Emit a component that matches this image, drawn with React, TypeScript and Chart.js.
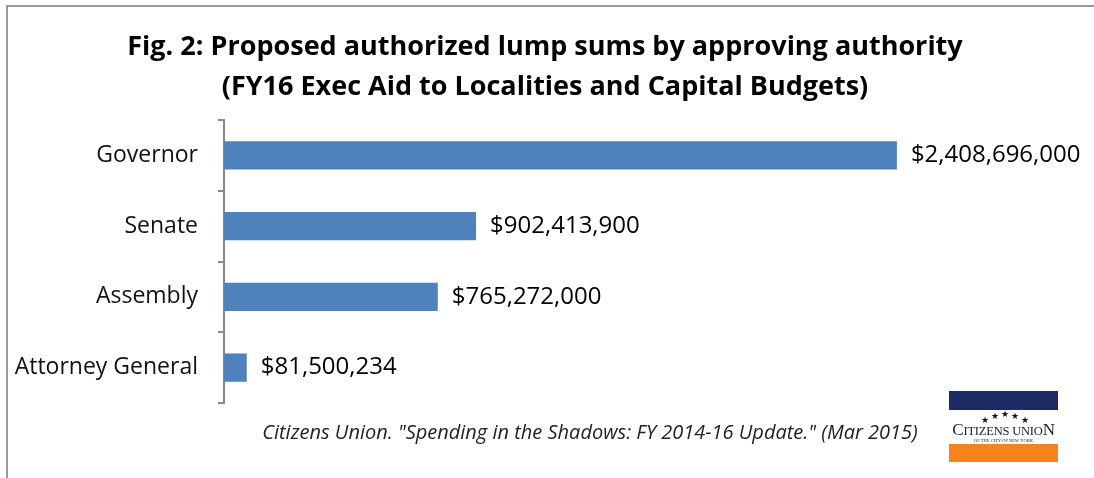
import React, { useEffect, useRef } from "react";
import { Chart, registerables } from "chart.js";

Chart.register(...registerables);

const categories = ["Governor", "Senate", "Assembly", "Attorney General"];
const amounts = [2408696000, 902413900, 765272000, 81500234];
const titleLines = [
  "Fig. 2: Proposed authorized lump sums by approving authority",
  "(FY16 Exec Aid to Localities and Capital Budgets)",
];
const sourceNote = 'Citizens Union. "Spending in the Shadows: FY 2014-16 Update." (Mar 2015)';

const FONT = "'Open Sans', Lato, sans-serif";

const fmt = (v: number) => "$" + v.toLocaleString("en-US");

const valueLabels = {
  id: "valueLabels",
  afterDatasetsDraw(chart: any) {
    const ctx = chart.ctx;
    const meta = chart.getDatasetMeta(0);
    ctx.save();
    ctx.font = `24px ${FONT}`;
    ctx.fillStyle = "#000";
    ctx.textAlign = "left";
    ctx.textBaseline = "middle";
    meta.data.forEach((el: any, i: number) => {
      ctx.fillText(fmt(amounts[i]), el.x + 14, el.y);
    });
    ctx.restore();
  },
};

export default function App() {
  const ref = useRef<HTMLCanvasElement>(null);
  useEffect(() => {
    const chart = new Chart(ref.current!, {
      type: "bar",
      data: {
        labels: categories,
        datasets: [
          {
            data: amounts,
            backgroundColor: "#4F81BD",
            borderWidth: 0,
            barPercentage: 0.4,
            categoryPercentage: 1,
          },
        ],
      },
      options: {
        indexAxis: "y",
        animation: false,
        responsive: false,
        events: [],
        layout: { padding: { left: 0, right: 4, top: 0, bottom: 75 } },
        plugins: {
          legend: { display: false },
          tooltip: { enabled: false },
          title: {
            display: true,
            text: titleLines,
            color: "#000",
            font: { family: FONT, size: 27, weight: "bold", lineHeight: "40px" },
            padding: { top: 27, bottom: 13 },
          },
        },
        scales: {
          x: { display: false, min: 0, max: 3100000000 },
          y: {
            afterFit: (s: any) => {
              s.width = 224;
            },
            border: { display: true, color: "#8a8a8a", width: 2 },
            grid: {
              display: true,
              drawOnChartArea: false,
              drawTicks: true,
              tickLength: 6,
              color: "#8a8a8a",
              lineWidth: 2,
              offset: true,
            },
            ticks: {
              color: "#111",
              padding: 20,
              font: { family: FONT, size: 23 },
            },
          },
        },
      },
      plugins: [valueLabels],
    });
    return () => chart.destroy();
  }, []);

  const starTops = [6, 2, 0, 2, 6];

  return (
    <div
      style={{
        position: "fixed",
        left: 0,
        top: 0,
        width: 1094,
        height: 478,
        background: "#fff",
        overflow: "hidden",
      }}
    >
      <div
        style={{
          position: "absolute",
          left: 6,
          top: 5,
          width: 1100,
          height: 500,
          borderLeft: "2px solid #999",
          borderTop: "2px solid #999",
        }}
      />
      <canvas
        ref={ref}
        width={1094}
        height={478}
        style={{ position: "absolute", left: 0, top: 0 }}
      />
      <div
        style={{
          position: "absolute",
          left: 590,
          top: 419,
          transform: "translateX(-50%)",
          fontFamily: FONT,
          fontStyle: "italic",
          fontSize: 20,
          lineHeight: "26px",
          color: "#222",
          whiteSpace: "nowrap",
        }}
      >
        {sourceNote}
      </div>
      <div
        style={{
          position: "absolute",
          left: 949,
          top: 391,
          width: 109,
          height: 71,
          fontFamily: "'Liberation Serif', serif",
          color: "#222",
          textAlign: "center",
        }}
      >
        <div style={{ height: 19, background: "#1C2A66" }} />
        <div style={{ height: 34, position: "relative", background: "#fff" }}>
          {starTops.map((t, i) => (
            <span
              key={i}
              style={{
                position: "absolute",
                left: 32 + i * 10,
                top: t,
                fontSize: 9,
                lineHeight: "9px",
                color: "#111",
              }}
            >
              ★
            </span>
          ))}
          <div
            style={{
              position: "absolute",
              left: -4,
              right: -4,
              top: 11,
              fontSize: 17,
              lineHeight: "17px",
              letterSpacing: -0.2,
              whiteSpace: "nowrap",
            }}
          >
            C<span style={{ fontSize: 12.5 }}>ITIZENS UNIO</span>N
          </div>
          <div
            style={{
              position: "absolute",
              left: 0,
              right: 0,
              top: 28,
              fontSize: 4.5,
              lineHeight: "5px",
              whiteSpace: "nowrap",
            }}
          >
            OF THE CITY OF NEW YORK
          </div>
        </div>
        <div style={{ height: 18, background: "#F7821E" }} />
      </div>
    </div>
  );
}
